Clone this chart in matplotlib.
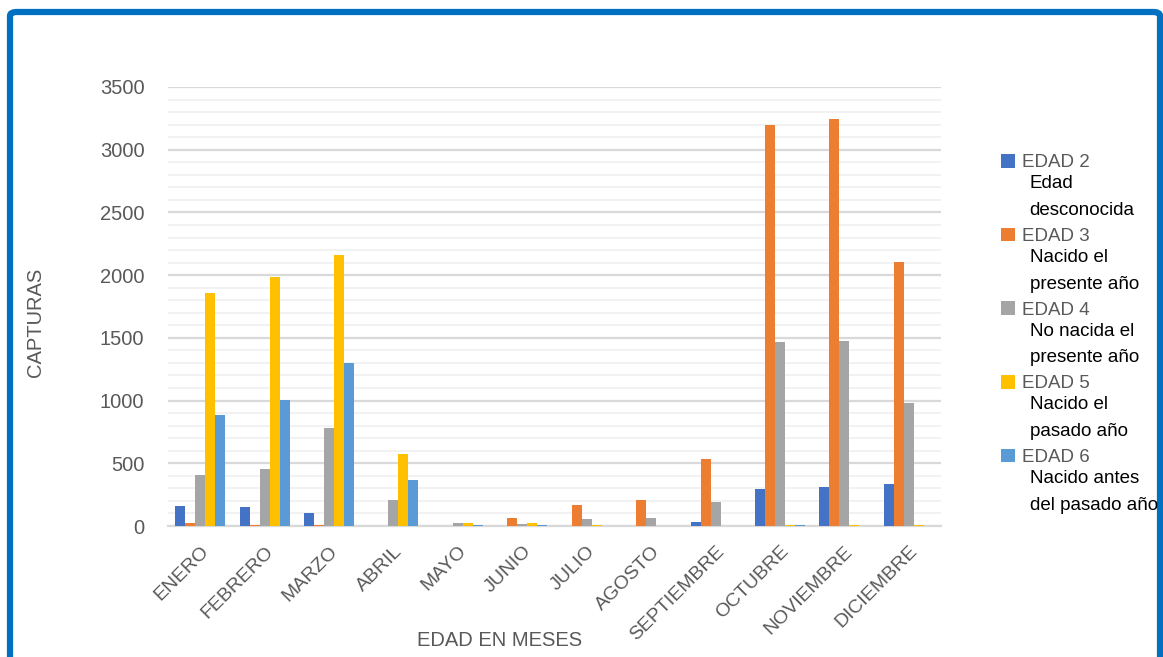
import matplotlib
matplotlib.use("Agg")
import matplotlib.pyplot as plt
from matplotlib.patches import FancyBboxPatch, Patch
import numpy as np

plt.rcParams['font.family'] = ['Liberation Sans', 'DejaVu Sans']

months = ["ENERO", "FEBRERO", "MARZO", "ABRIL", "MAYO", "JUNIO", "JULIO",
          "AGOSTO", "SEPTIEMBRE", "OCTUBRE", "NOVIEMBRE", "DICIEMBRE"]
series_names = ["EDAD 2", "EDAD 3", "EDAD 4", "EDAD 5", "EDAD 6"]
series_desc = ["Edad\ndesconocida", "Nacido el\npresente año", "No nacida el\npresente año",
               "Nacido el\npasado año", "Nacido antes\ndel pasado año"]
edad2 = [160, 150, 100, 0, 0, 0, 3, 0, 30, 295, 313, 335]
edad3 = [22, 5, 10, 2, 3, 66, 167, 207, 534, 3201, 3244, 2104]
edad4 = [404, 454, 779, 205, 22, 18, 58, 64, 189, 1464, 1477, 983]
edad5 = [1855, 1985, 2160, 571, 22, 22, 8, 0, 3, 8, 8, 8]
edad6 = [887, 1007, 1300, 367, 10, 8, 2, 2, 0, 5, 0, 0]
yticks = [0, 500, 1000, 1500, 2000, 2500, 3000, 3500]

colors = ["#4472C4", "#ED7D31", "#A5A5A5", "#FFC000", "#5B9BD5"]
data = [edad2, edad3, edad4, edad5, edad6]
TXT = "#595959"

W, H = 1163, 657
fig = plt.figure(figsize=(W / 100, H / 100), dpi=100)
ax = fig.add_axes([168 / W, 1 - 526 / H, (941 - 168) / W, (526 - 87) / H])

x = np.arange(len(months))
bw = 0.155
for i, (vals, c) in enumerate(zip(data, colors)):
    ax.bar(x + (i - 2) * bw, vals, width=bw, color=c, label=series_names[i], zorder=3)

ax.set_xlim(-0.5, len(months) - 0.5)
ax.set_ylim(0, 3500)
ax.set_yticks(yticks)
ax.set_yticks(np.arange(0, 3501, 100), minor=True)
ax.yaxis.grid(True, which='major', color="#D9D9D9", lw=1.6, zorder=0)
ax.yaxis.grid(True, which='minor', color="#F2F2F2", lw=1.4, zorder=0)
ax.tick_params(axis='y', which='both', length=0, pad=17, labelsize=14.5, labelcolor=TXT)
ax.tick_params(axis='x', length=0, pad=12, labelsize=14, labelcolor=TXT)
ax.set_xticks(x)
ax.set_xticklabels(months, rotation=45, ha='right', rotation_mode='anchor')
for s in ['top', 'right', 'left']:
    ax.spines[s].set_visible(False)
ax.spines['bottom'].set_color("#D9D9D9")
ax.spines['bottom'].set_linewidth(1.6)

fig.text(500 / W, 1 - 641 / H, "EDAD EN MESES", ha='center', va='center', fontsize=14.5, color=TXT)
fig.text(36 / W, 1 - 322 / H, "CAPTURAS", ha='center', va='center', rotation=90, fontsize=14.5, color=TXT)

handles = [Patch(facecolor=c, edgecolor='none') for c in colors]
leg = fig.legend(handles, series_names, loc='upper left',
                 bbox_to_anchor=(1001 / W, 1 - 154 / H), frameon=False,
                 fontsize=13.5, labelcolor=TXT, handlelength=0.75, handleheight=0.75,
                 handletextpad=0.35, labelspacing=3.0, borderaxespad=0, borderpad=0)
fig.canvas.draw()
for t, d in zip(leg.get_texts(), series_desc):
    bb = t.get_window_extent()
    fig.text((bb.x0 + 8) / W, (bb.y0 - 4) / H, d, ha='left', va='top',
             fontsize=13.5, color='black', linespacing=1.75)

border = FancyBboxPatch((10 / W, -0.05), (1160 - 10) / W, (1 - 12 / H) + 0.05,
                        boxstyle="round,pad=0,rounding_size=0.006",
                        transform=fig.transFigure, fill=False,
                        edgecolor="#0070C0", lw=4.5, clip_on=False)
fig.patches.append(border)

fig.savefig("out.png", dpi=100)
